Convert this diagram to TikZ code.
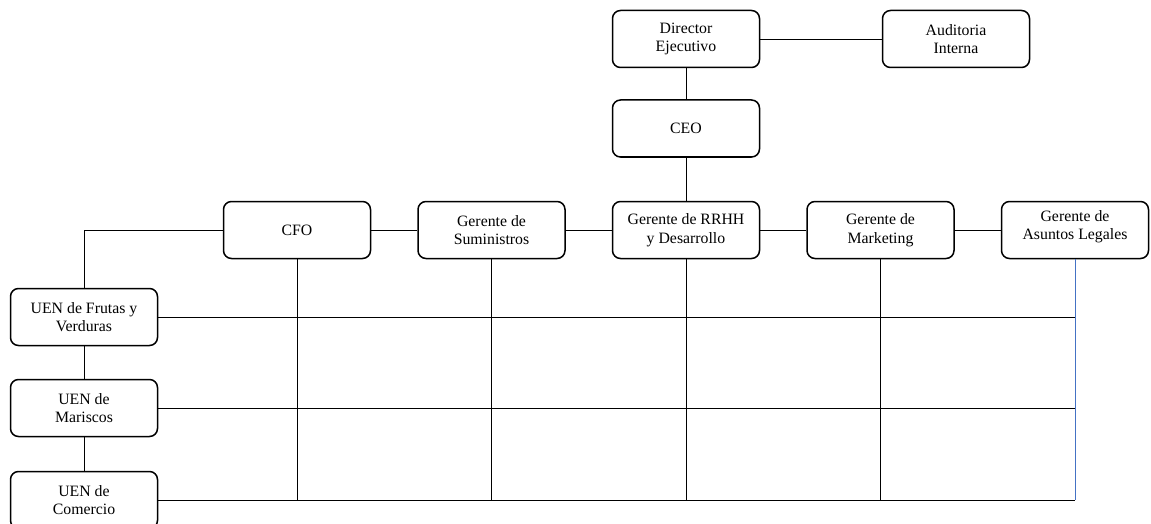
\documentclass[tikz,border=0pt]{standalone}
\usepackage{fontspec}
\setmainfont{Liberation Serif}
\usepackage{xcolor}
\usetikzlibrary{positioning, shapes}
\definecolor{lineablue}{RGB}{68,114,196}
\tikzset{
  puesto/.style={draw, rounded corners=8pt, line width=1.5pt, minimum width=147pt, minimum height=57pt,
    align=center, inner sep=2pt, font=\fontsize{15.8}{18.5}\selectfont},
  enlace/.style={line width=0.8pt}
}

\begin{document}
\begin{tikzpicture}[x=1pt, y=-1pt]
\useasboundingbox (0,0) rectangle (1151,524);
\node[puesto] (dir) at (686,39) {Director\\Ejecutivo};
\node[puesto, right=121.5pt of dir] (aud) {Auditoria\\Interna};
\node[puesto] (ceo) at (686,128.5) {CEO};

\node[puesto] (rrhh) at (686,230) {Gerente de RRHH\\y Desarrollo};
\node[puesto, left=46pt of rrhh] (sum) {Gerente de\\Suministros};
\node[puesto, left=46pt of sum] (cfo) {CFO};
\node[puesto, right=46pt of rrhh] (mark) {Gerente de\\Marketing};
\node[puesto, right=46pt of mark, text depth=9.5pt] (leg) {Gerente de\\Asuntos Legales};

\node[puesto] (fru) at (84,317) {UEN de Frutas y\\Verduras};
\node[puesto, below=32.5pt of fru] (mar) {UEN de\\Mariscos};
\node[puesto, below=33.5pt of mar] (com) {UEN de\\Comercio};

\draw[enlace] (dir) -- (aud)
	(dir) -- (ceo)
	(ceo) -- (rrhh)
	(cfo) -- (sum)
	(sum) -- (rrhh)
	(rrhh) -- (mark)
	(mark) -- (leg)
	(cfo.west) -| (fru.north)
	(fru) -- (mar)
	(mar) -- (com);

% matriz de UEN y gerencias
\draw[enlace] (fru.east) -- (fru.east -| leg.south)
	(mar.east) -- (mar.east -| leg.south)
	(com.east) -- (com.east -| leg.south)
	(cfo.south) -- (cfo.south |- com.east)
	(sum.south) -- (sum.south |- com.east)
	(rrhh.south) -- (rrhh.south |- com.east)
	(mark.south) -- (mark.south |- com.east);
\draw[enlace, lineablue] (leg.south) -- (leg.south |- com.east);
\end{tikzpicture}
\end{document}
